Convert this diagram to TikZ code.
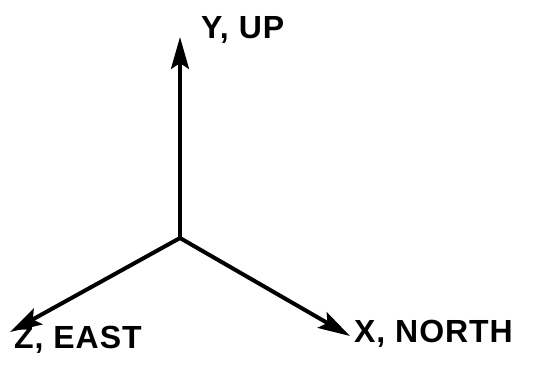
\documentclass[tikz,border=0pt]{standalone}
\usepackage{fontspec}
\setsansfont{Liberation Sans}[LetterSpace=3]
\usetikzlibrary{arrows.meta}

\begin{document}
\begin{tikzpicture}[
  x=1pt, y=-1pt,
  axis/.style={-{Stealth[length=32pt, width=18pt, inset=6pt]}, line width=4pt},
  axlabel/.style={font=\sffamily\bfseries\fontsize{32}{32}\selectfont, inner sep=0pt},
]
\useasboundingbox (0,0) rectangle (537,372);

\coordinate (origin) at (180,238);
\coordinate (ytip) at (180,37);
\coordinate (xtip) at (350,336);
\coordinate (ztip) at (10,332);

\node[axlabel, anchor=base west] (ylab) at (201,38) {Y,\hspace{10pt}UP};
\node[axlabel, anchor=base west] (xlab) at (354,342) {X, NORTH};
\node[axlabel, anchor=base west] (zlab) at (14,348) {Z, EAST};

\draw[axis] (origin) -- (ytip);
\draw[axis] (origin) -- (xtip);
\draw[axis] (origin) -- (ztip);

\end{tikzpicture}
\end{document}
